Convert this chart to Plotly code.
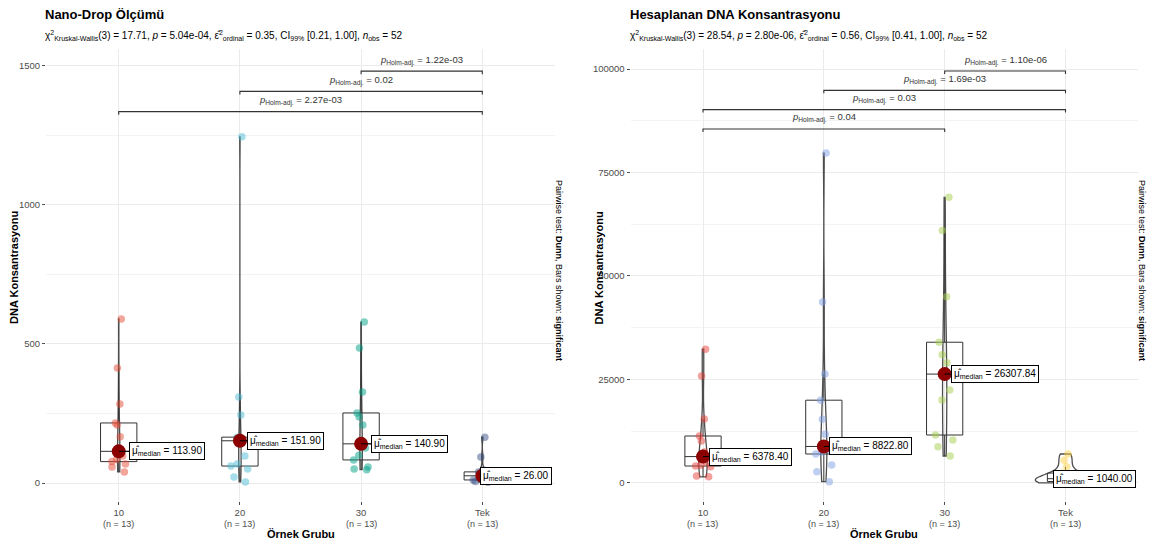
import numpy as np
import plotly.graph_objects as go

# ---------------- data ----------------
categories = ["10", "20", "30", "Tek"]

nano_10 = [40, 58, 68, 77, 85, 97, 113.9, 166, 209, 216, 284, 414, 590]
nano_20 = [4, 22, 50, 61, 68, 97, 151.9, 154, 158, 165, 245, 309, 1245]
nano_30 = [48, 50, 58, 83, 100, 126, 140.9, 209, 237, 252, 327, 486, 579]
nano_tek = [3, 5, 8, 11, 18, 22, 26, 30, 35, 40, 47, 94, 165]

dna_10 = [1500, 1690, 3900, 4100, 4300, 5000, 6378.4, 7500, 10150, 11350, 15460, 25850, 32300]
dna_20 = [310, 2730, 4350, 7000, 7500, 8000, 8822.8, 11800, 15400, 20000, 26300, 43700, 79700]
dna_30 = [6520, 8770, 10390, 11590, 20050, 22460, 26307.84, 29060, 31000, 34000, 45000, 61000, 69000]
dna_tek = [50, 150, 250, 350, 500, 800, 1040, 1300, 1800, 2400, 3900, 5500, 7000]

nano_pairs = [("10", "Tek"), ("20", "Tek"), ("30", "Tek")]
nano_pvals = ["2.27e-03", "0.02", "1.22e-03"]
dna_pairs = [("10", "30"), ("10", "Tek"), ("20", "Tek"), ("30", "Tek")]
dna_pvals = ["0.04", "0.03", "1.69e-03", "1.10e-06"]

nano_title = "Nano-Drop Ölçümü"
dna_title = "Hesaplanan DNA Konsantrasyonu"
nano_sub = ("χ<sup>2</sup><sub>Kruskal-Wallis</sub>(3) = 17.71, <i>p</i> = 5.04e-04, "
            "ε\u0302<sup>2</sup><sub>ordinal</sub> = 0.35, CI<sub>99%</sub> [0.21, 1.00], "
            "<i>n</i><sub>obs</sub> = 52")
dna_sub = ("χ<sup>2</sup><sub>Kruskal-Wallis</sub>(3) = 28.54, <i>p</i> = 2.80e-06, "
           "ε\u0302<sup>2</sup><sub>ordinal</sub> = 0.56, CI<sub>99%</sub> [0.41, 1.00], "
           "<i>n</i><sub>obs</sub> = 52")
y_title = "DNA Konsantrasyonu"
x_title = "Örnek Grubu"
caption = "Pairwise test: <b>Dunn</b>, Bars shown: <b>significant</b>"

# ---------------- styles ----------------
nano_colors = ["#E64B35", "#4DBBD5", "#00A087", "#3C5488"]
dna_colors = ["#E8413C", "#7F9FE3", "#A6D04E", "#FFD445"]
nano_violin_w = [0.02, 0.02, 0.02, 0.08]
dna_violin_w = [0.07, 0.05, 0.035, 0.5]
nano_label_dx = [48, 46, 48, 34]
dna_label_dx = [48, 47, 50, 29]
FONT = "Liberation Sans, Arial, sans-serif"

W, H = 1149, 547
panels = [
    dict(groups=[nano_10, nano_20, nano_30, nano_tek], colors=nano_colors, vw=nano_violin_w,
         dx=nano_label_dx, pairs=nano_pairs, pvals=nano_pvals, title=nano_title, sub=nano_sub,
         px=(46, 555), yrange=[-64.7, 1561], dtick=500, minor=250, xa="x", ya="y"),
    dict(groups=[dna_10, dna_20, dna_30, dna_tek], colors=dna_colors, vw=dna_violin_w,
         dx=dna_label_dx, pairs=dna_pairs, pvals=dna_pvals, title=dna_title, sub=dna_sub,
         px=(630.5, 1138), yrange=[-4350, 104830], dtick=25000, minor=12500, xa="x2", ya="y2"),
]
ytop, ybot = 49, 501

fig = go.Figure()
annotations = []

for k, p in enumerate(panels):
    xa, ya = p["xa"], p["ya"]
    for i, (cat, vals) in enumerate(zip(categories, p["groups"])):
        xs = [cat] * len(vals)
        fig.add_trace(go.Violin(x=xs, y=vals, xaxis=xa, yaxis=ya, width=p["vw"][i],
                                line=dict(color="#4D4D4D", width=1.3),
                                fillcolor="rgba(255,255,255,0)", points=False,
                                spanmode="hard", showlegend=False, hoverinfo="skip"))
        fig.add_trace(go.Box(x=xs, y=vals, xaxis=xa, yaxis=ya, width=0.3,
                             quartilemethod="inclusive", boxpoints="outliers",
                             marker=dict(opacity=0, size=1),
                             line=dict(color="#333333", width=1), whiskerwidth=0,
                             fillcolor="rgba(255,255,255,0)", showlegend=False))
        fig.add_trace(go.Box(x=xs, y=vals, xaxis=xa, yaxis=ya, width=0.3,
                             boxpoints="all", jitter=0.6, pointpos=0,
                             line=dict(width=0), fillcolor="rgba(0,0,0,0)",
                             marker=dict(color=p["colors"][i], opacity=0.5, size=7.5),
                             showlegend=False))
        med = float(np.median(vals))
        fig.add_trace(go.Scatter(x=[cat], y=[med], xaxis=xa, yaxis=ya, mode="markers",
                                 marker=dict(color="#8B0000", size=14), showlegend=False))
        annotations.append(dict(
            x=i, y=med, xref=xa, yref=ya, ax=p["dx"][i], ay=0,
            text="μ\u0302<sub>median</sub> = %.2f" % med, showarrow=True, arrowhead=0,
            arrowwidth=1, arrowcolor="#000000", standoff=0,
            font=dict(family=FONT, size=10, color="#000000"),
            bgcolor="white", bordercolor="#000000", borderwidth=1, borderpad=2))
        # "(n = ..)" under each tick label
        annotations.append(dict(
            x=i, y=1 - 523.5 / H, xref=xa, yref="paper", showarrow=False, yanchor="middle",
            text="(n = %d)" % len(vals), font=dict(family=FONT, size=9, color="#4D4D4D")))

    # significance brackets
    gmax = max(max(g) for g in p["groups"])
    tick = 0.009 * gmax
    for j, ((c1, c2), pv) in enumerate(zip(p["pairs"], p["pvals"])):
        h = gmax * (1.073 + 0.0585 * j)
        fig.add_trace(go.Scatter(x=[c1, c1, c2, c2], y=[h - tick, h, h, h - tick],
                                 xaxis=xa, yaxis=ya, mode="lines",
                                 line=dict(color="#333333", width=1.1),
                                 showlegend=False, hoverinfo="skip"))
        i1, i2 = categories.index(c1), categories.index(c2)
        annotations.append(dict(
            x=(i1 + i2) / 2, y=h, xref=xa, yref=ya, showarrow=False, yanchor="middle",
            yshift=11, text="<i>p</i><sub>Holm-adj.</sub> = " + pv,
            font=dict(family=FONT, size=9.5, color="#333333")))

    x0, x1 = p["px"]
    dom = [x0 / W, x1 / W]
    ax_key = "xaxis" if k == 0 else "xaxis2"
    ay_key = "yaxis" if k == 0 else "yaxis2"
    fig.layout[ax_key] = dict(
        domain=dom, anchor=ya, type="category", categoryorder="array",
        categoryarray=categories, range=[-0.6, 3.6], tickvals=categories, ticktext=categories,
        showgrid=True, gridcolor="#EBEBEB", gridwidth=1, zeroline=False, showline=False,
        ticks="outside", ticklen=3, tickcolor="#4D4D4D", automargin=False,
        ticklabelstandoff=0,
        tickfont=dict(family=FONT, size=9.5, color="#4D4D4D"))
    fig.layout[ay_key] = dict(
        domain=[(H - ybot) / H, (H - ytop) / H], anchor=xa, range=p["yrange"],
        dtick=p["dtick"], tick0=0, tickformat="d", showgrid=True, gridcolor="#EBEBEB",
        gridwidth=1, automargin=False,
        minor=dict(dtick=p["minor"], tick0=0, showgrid=True, gridcolor="#F3F3F3", gridwidth=1),
        zeroline=False, showline=False, ticks="outside", ticklen=3, tickcolor="#4D4D4D",
        tickfont=dict(family=FONT, size=9.5, color="#4D4D4D"))

    # titles and axis titles
    tx = (x0 - 3) / W
    annotations.append(dict(x=tx, y=1 - 14 / H, xref="paper", yref="paper", xanchor="left",
                            yanchor="middle", showarrow=False, text="<b>%s</b>" % p["title"],
                            font=dict(family=FONT, size=13, color="#000000")))
    annotations.append(dict(x=tx, y=1 - 36 / H, xref="paper", yref="paper", xanchor="left",
                            yanchor="middle", showarrow=False, text=p["sub"],
                            font=dict(family=FONT, size=10, color="#000000")))
    annotations.append(dict(x=(x0 - 32) / W, y=1 - 268 / H, xref="paper", yref="paper",
                            xanchor="center", yanchor="middle", showarrow=False, textangle=-90,
                            text="<b>%s</b>" % y_title,
                            font=dict(family=FONT, size=11, color="#000000")))
    annotations.append(dict(x=(x0 + x1) / 2 / W, y=1 - 534 / H, xref="paper", yref="paper",
                            xanchor="center", yanchor="middle", showarrow=False,
                            text="<b>%s</b>" % x_title,
                            font=dict(family=FONT, size=11, color="#000000")))
    annotations.append(dict(x=(x1 + 4) / W, y=1 - 270 / H, xref="paper", yref="paper",
                            xanchor="center", yanchor="middle", showarrow=False, textangle=90,
                            text=caption, font=dict(family=FONT, size=9, color="#000000")))

fig.update_layout(width=W, height=H, margin=dict(l=0, r=0, t=0, b=0),
                  paper_bgcolor="white", plot_bgcolor="white", showlegend=False,
                  boxmode="overlay", violinmode="overlay", annotations=annotations,
                  font=dict(family=FONT))
fig.write_html("out.html", config={"displayModeBar": False},
               post_script="document.body.style.margin='0';document.body.style.overflow='hidden';")
